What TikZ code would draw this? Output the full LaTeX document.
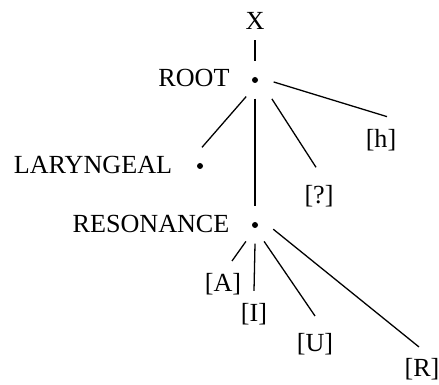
\documentclass[tikz,border=0pt]{standalone}
\usepackage{fontspec}
\setmainfont{Liberation Serif}
\begin{document}
\begin{tikzpicture}[
  every node/.style={font=\fontsize{22.3}{26}\selectfont},
  featdot/.style={circle, inner sep=0pt, minimum size=1.11cm,
    path picture={\fill (path picture bounding box.center) circle (0.09cm);}},
  lbl/.style={inner sep=0pt, anchor=base},
  branch/.style={line width=1.1pt}]
  \useasboundingbox (0,0) rectangle (13.17,11.52);
  % class nodes
  \node[featdot] (root) at (7.65,9.12) {};
  \node[featdot] (lar) at (6.00,6.54) {};
  \node[featdot] (res) at (7.65,4.77) {};
  \node[lbl] (xlbl) at (7.65,10.62) {X};
  \node[lbl] (rootname) at (5.82,8.91) {ROOT};
  \node[lbl] (larname) at (2.79,6.30) {LARYNGEAL};
  \node[lbl] (resname) at (4.53,4.53) {RESONANCE};
  % features
  \node[lbl] (h) at (11.43,7.08) {[h]};
  \node[lbl] (glot) at (9.57,5.40) {[?]};
  \node[lbl] (A) at (6.69,2.79) {[A]};
  \node[lbl] (I) at (7.62,1.89) {[I]};
  \node[lbl] (U) at (9.45,0.99) {[U]};
  \node[lbl] (R) at (12.66,0.24) {[R]};
  % branches
  \draw[branch] ([yshift=-0.3cm]xlbl.south) -- (root.north);
  \draw[branch] (root.-118) -- (lar.84);
  \draw[branch] (root.-90) -- (res.90);
  \draw[branch, shorten <=0.2cm] (root.-45) -- ([shift={(-0.09,0.55)}]glot.north);
  \draw[branch] (root.-6) -- ([shift={(0.18,0.39)}]h.north);
  \foreach \a/\t/\s in {-119/A/{(0.27,0.35)}, -90/I/{(0,0.35)},
                        -61/U/{(0,0.5)}, -13/R/{(-0.09,0.32)}}
    \draw[branch] (res.\a) -- ([shift={\s}]\t.north);
\end{tikzpicture}
\end{document}
